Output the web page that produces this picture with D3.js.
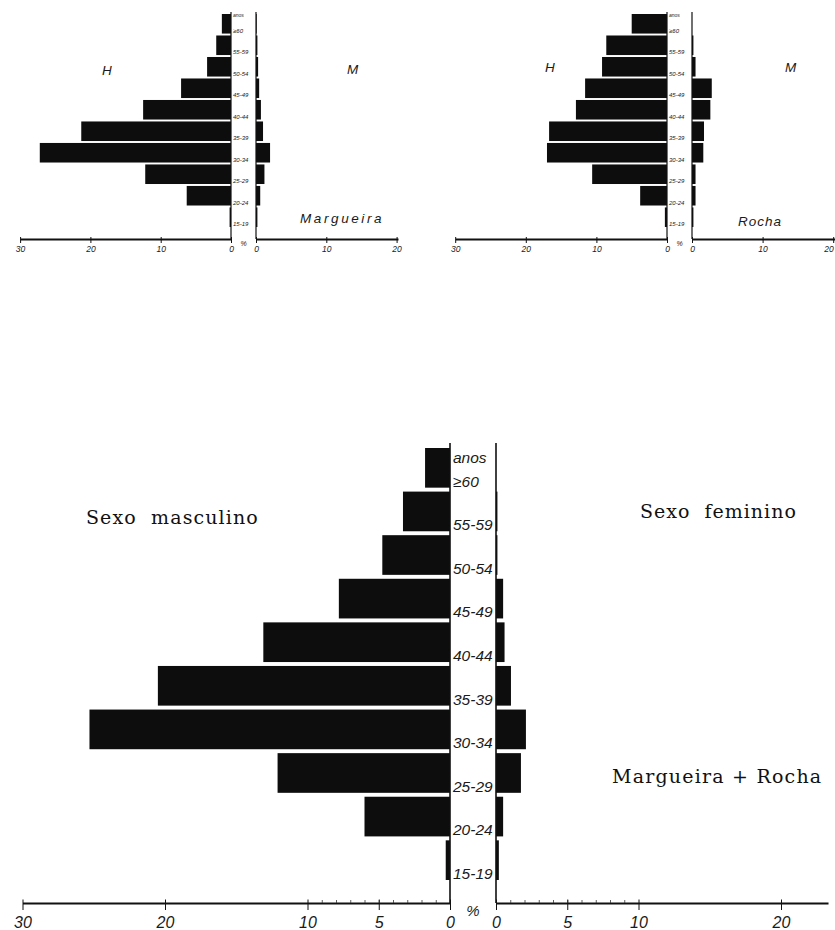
<!DOCTYPE html>
<html>
<head>
<meta charset="utf-8">
<script src="https://cdn.jsdelivr.net/npm/d3@7"></script>
<style>
  html, body { margin: 0; padding: 0; background: #fff; }
  svg { display: block; }
  .lbl { font-family: "Liberation Sans", sans-serif; font-style: italic; fill: #1a1a1a; }
  .serif { font-family: "DejaVu Serif", serif; fill: #111; }
</style>
</head>
<body>
<svg id="chart" width="835" height="930"></svg>
<script>
// grupos etarios, de cima para baixo
const ageGroups = ["≥60", "55-59", "50-54", "45-49", "40-44", "35-39", "30-34", "25-29", "20-24", "15-19"];

// percentagens
const margueiraH = [1.3, 2.1, 3.4, 7.1, 12.5, 21.3, 27.2, 12.2, 6.3, 0.2];
const margueiraM = [0.1, 0.2, 0.3, 0.45, 0.7, 1.0, 2.0, 1.2, 0.6, 0.2];
const rochaH     = [5.0, 8.6, 9.2, 11.6, 12.9, 16.7, 17.0, 10.6, 3.8, 0.3];
const rochaM     = [0.0, 0.2, 0.5, 2.8, 2.6, 1.7, 1.6, 0.5, 0.5, 0.2];
const totalH     = [1.75, 3.3, 4.75, 7.8, 13.1, 20.5, 25.3, 12.1, 6.0, 0.3];
const totalM     = [0.0, 0.1, 0.1, 0.5, 0.6, 1.05, 2.1, 1.75, 0.5, 0.2];

const smallTicksLeft  = [30, 20, 10, 0];
const smallTicksRight = [0, 10, 20];
const bigTicksLeft    = [30, 20, 10, 5, 0];
const bigTicksRight   = [0, 5, 10, 20];
const minorTicks      = [1, 2, 3, 4, 5, 6, 7, 8, 9];

const W = 835;
const svg = d3.select('#chart');

function drawPyramid(cfg, males, females) {
  const g = svg.append('g');
  const rows = ageGroups.map((a, i) => ({ age: a, h: males[i], m: females[i] }));

  const y = d3.scaleBand().domain(ageGroups).range(cfg.rows).paddingInner(0.09).paddingOuter(0);
  const xL = d3.scaleLinear().domain([0, 30]).range([cfg.zeroL, cfg.zeroL - 30 * cfg.unit]);
  const xR = d3.scaleLinear().domain([0, cfg.maxR]).range([cfg.zeroR, cfg.zeroR + cfg.maxR * cfg.unit]);

  // barras
  g.selectAll('rect.h').data(rows).join('rect')
    .attr('class', 'h')
    .attr('x', d => xL(d.h)).attr('y', d => y(d.age))
    .attr('width', d => xL(0) - xL(d.h)).attr('height', y.bandwidth())
    .attr('fill', '#0d0d0d');
  g.selectAll('rect.m').data(rows).join('rect')
    .attr('class', 'm')
    .attr('x', xR(0)).attr('y', d => y(d.age))
    .attr('width', d => xR(d.m) - xR(0)).attr('height', y.bandwidth())
    .attr('fill', '#0d0d0d');

  // colunas centrais
  [xL(0), xR(0)].forEach(x => {
    g.append('line')
      .attr('x1', x).attr('x2', x).attr('y1', cfg.colTop).attr('y2', cfg.axisY)
      .attr('stroke', '#111').attr('stroke-width', cfg.colW);
  });

  // etiquetas das idades
  g.selectAll('text.age').data(rows).join('text')
    .attr('class', 'lbl age')
    .attr('x', xL(0) + cfg.ageDx)
    .attr('y', d => y(d.age) + y.bandwidth() - 1)
    .attr('font-size', cfg.ageFs)
    .text(d => d.age);
  g.append('text').attr('class', 'lbl')
    .attr('x', xL(0) + cfg.ageDx).attr('y', cfg.anosY)
    .attr('font-size', cfg.anosFs)
    .text('anos');

  // eixos
  const axL = d3.axisBottom(xL).tickValues(cfg.ticksL).tickSize(cfg.tick).tickSizeOuter(0).tickFormat(d3.format('d'));
  const axR = d3.axisBottom(xR).tickValues(cfg.ticksR).tickSize(cfg.tick).tickSizeOuter(0).tickFormat(d3.format('d'));
  [axL, axR].forEach(ax => {
    const a = g.append('g').attr('transform', `translate(0,${cfg.axisY})`).call(ax);
    a.select('.domain').attr('stroke', '#111').attr('stroke-width', cfg.axisW);
    a.selectAll('.tick line').attr('stroke', '#111').attr('y1', -cfg.tick / 2);
    a.selectAll('.tick text')
      .attr('class', 'lbl').attr('y', cfg.tickLabelY).attr('dy', 0)
      .attr('font-size', cfg.tickFs).attr('fill', '#1a1a1a');
    // nao deixar cortar na margem direita
    a.selectAll('.tick').each(function () {
      const t = d3.select(this).select('text');
      const b = this.getBBox();
      const m = this.transform.baseVal.consolidate().matrix.e;
      if (m + b.x + b.width > W - 1) t.attr('x', (W - 1) - (m + b.x + b.width));
    });
  });
  [xL, xR].forEach(sc => {
    const a = g.append('g').attr('transform', `translate(0,${cfg.axisY})`)
      .call(d3.axisBottom(sc).tickValues(minorTicks).tickSize(-cfg.minor).tickFormat(''));
    a.select('.domain').remove();
    a.selectAll('.tick line').attr('stroke', '#333').attr('stroke-width', 0.8);
  });

  g.append('text').attr('class', 'lbl')
    .attr('x', (xL(0) + xR(0)) / 2).attr('y', cfg.pctY)
    .attr('text-anchor', 'middle').attr('font-size', cfg.pctFs)
    .text('%');
  return g;
}

// Margueira
drawPyramid({
  zeroL: 231, zeroR: 256, unit: 7.03, maxR: 20.2, rows: [14, 227],
  axisY: 239, colTop: 12, colW: 1.2, axisW: 1.8, tick: 4, minor: 0,
  ticksL: smallTicksLeft, ticksR: smallTicksRight, tickLabelY: 13, tickFs: 8.5,
  ageDx: 2, ageFs: 6, anosY: 17, anosFs: 5, pctY: 246, pctFs: 7
}, margueiraH, margueiraM);

// Rocha
drawPyramid({
  zeroL: 667, zeroR: 692, unit: 7.06, maxR: 20.4, rows: [14, 227],
  axisY: 239, colTop: 12, colW: 1.2, axisW: 1.8, tick: 4, minor: 0,
  ticksL: smallTicksLeft, ticksR: smallTicksRight, tickLabelY: 13, tickFs: 8.5,
  ageDx: 2, ageFs: 6, anosY: 17, anosFs: 5, pctY: 246, pctFs: 7
}, rochaH, rochaM);

// Margueira + Rocha
drawPyramid({
  zeroL: 450, zeroR: 496, unit: 14.25, maxR: 23.3, rows: [448, 880],
  axisY: 903, colTop: 443, colW: 1.6, axisW: 2.2, tick: 7, minor: 3,
  ticksL: bigTicksLeft, ticksR: bigTicksRight, tickLabelY: 25, tickFs: 16,
  ageDx: 3, ageFs: 15.5, anosY: 463, anosFs: 15.5, pctY: 916, pctFs: 15
}, totalH, totalM);

// textos
const titles = [
  { t: 'H', x: 102, y: 75, fs: 13.5, cls: 'lbl', ls: 0 },
  { t: 'M', x: 347, y: 74, fs: 13.5, cls: 'lbl', ls: 0 },
  { t: 'Margueira', x: 300, y: 223, fs: 13.5, cls: 'lbl', ls: 2.6 },
  { t: 'H', x: 545, y: 72, fs: 13.5, cls: 'lbl', ls: 0 },
  { t: 'M', x: 785, y: 72, fs: 13.5, cls: 'lbl', ls: 0 },
  { t: 'Rocha', x: 738, y: 226, fs: 13.5, cls: 'lbl', ls: 1 },
  { t: 'Sexo  masculino', x: 86, y: 524, fs: 19, cls: 'serif', ls: 1.1 },
  { t: 'Sexo  feminino', x: 640, y: 518, fs: 19, cls: 'serif', ls: 1.0 },
  { t: 'Margueira + Rocha', x: 612, y: 783, fs: 19, cls: 'serif', ls: 1.2 }
];
svg.selectAll('text.title').data(titles).join('text')
  .attr('class', d => d.cls + ' title')
  .attr('x', d => d.x).attr('y', d => d.y)
  .attr('font-size', d => d.fs)
  .attr('letter-spacing', d => d.ls)
  .style('white-space', 'pre')
  .text(d => d.t);
</script>
</body>
</html>
